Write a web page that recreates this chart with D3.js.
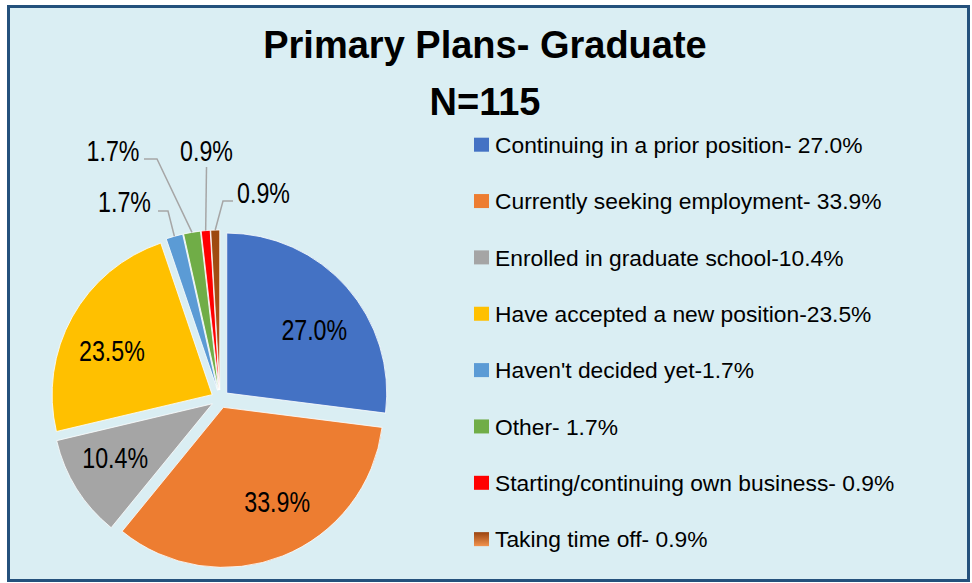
<!DOCTYPE html>
<html>
<head>
<meta charset="utf-8">
<script src="https://cdn.jsdelivr.net/npm/d3@7"></script>
<style>
  html, body { margin: 0; padding: 0; background: #ffffff; }
  svg { display: block; }
  text { font-family: "Liberation Sans", Arial, sans-serif; fill: #000; }
</style>
</head>
<body>
<svg id="chart" width="972" height="583"></svg>
<script>
// Primary plans of graduates (N=115), percentages of respondents
const categories = [
  "Continuing in a prior position",
  "Currently seeking employment",
  "Enrolled in graduate school",
  "Have accepted a new position",
  "Haven't decided yet",
  "Other",
  "Starting/continuing own business",
  "Taking time off"
];
const separators = ["- ", "- ", "-", "-", "-", "- ", "- ", "- "];
const values = [27.0, 33.9, 10.4, 23.5, 1.7, 1.7, 0.9, 0.9];
const colors = ["#4472C4", "#ED7D31", "#A5A5A5", "#FFC000", "#5B9BD5", "#70AD47", "#FF0000", "url(#brownGrad)"];
const titleLines = ["Primary Plans- Graduate", "N=115"];

// Small adjustments of the inside labels away from the slice mid-line
const insideNudge = [[5, 9], [13, -8], [-4, -5], [-4, 9]];

// Outside label placement for thin slices (offset from pie centre) and leader elbows
const outsideLayout = {
  4: { text: [-95.5, -197], elbow: [[-52, -188], [-62, -188]] },
  5: { text: [-107, -248.5], elbow: [[-63, -240], [-76, -240]] },
  6: { text: [-13.5, -248.5], elbow: [[-13.5, -232]] },
  7: { text: [43.5, -206.5], elbow: [[3, -198], [13, -198]] }
};

const W = 972, H = 583;
const cx = 220, cy = 399, R = 160, explode = 9;
const fmt = v => v.toFixed(1) + "%";

const svg = d3.select("#chart");

const defs = svg.append("defs");
const bg = defs.append("linearGradient").attr("id", "brownGrad")
  .attr("x1", 0).attr("y1", 0).attr("x2", 0).attr("y2", 1);
bg.append("stop").attr("offset", "0%").attr("stop-color", "#9E480E");
bg.append("stop").attr("offset", "70%").attr("stop-color", "#A9521A");
bg.append("stop").attr("offset", "100%").attr("stop-color", "#E98A45");

const lg = defs.append("linearGradient").attr("id", "brownGradLegend")
  .attr("x1", 0).attr("y1", 0).attr("x2", 0).attr("y2", 1);
lg.append("stop").attr("offset", "0%").attr("stop-color", "#9A4410");
lg.append("stop").attr("offset", "100%").attr("stop-color", "#F2934E");

// chart area with border
svg.append("rect")
  .attr("x", 8.5).attr("y", 6.5).attr("width", 960).attr("height", 574)
  .attr("fill", "#DAEEF3").attr("stroke", "#24517C").attr("stroke-width", 3);

// title
svg.append("g").selectAll("text").data(titleLines).join("text")
  .attr("x", 485).attr("y", (d, i) => 58 + i * 57)
  .attr("text-anchor", "middle")
  .attr("font-size", 38).attr("font-weight", "bold")
  .text(d => d);

// pie
const pie = d3.pie().sort(null).value(d => d).startAngle(0).endAngle(2 * Math.PI);
const arcs = pie(values);
const arc = d3.arc().innerRadius(0).outerRadius(R);
const labelArc = d3.arc().innerRadius(110).outerRadius(110);
const mid = d => (d.startAngle + d.endAngle) / 2;
const shift = d => [explode * Math.sin(mid(d)), -explode * Math.cos(mid(d))];

const pieG = svg.append("g").attr("transform", `translate(${cx},${cy})`);

pieG.selectAll("path.slice").data(arcs).join("path")
  .attr("class", "slice")
  .attr("transform", d => `translate(${shift(d)})`)
  .attr("d", arc)
  .attr("fill", (d, i) => colors[i])
  .attr("stroke", "#ffffff").attr("stroke-width", 0.8);

// labels inside the large slices
const inside = arcs.filter(d => d.data >= 5);
pieG.selectAll("g.inLabel").data(inside).join("g")
  .attr("class", "inLabel")
  .attr("transform", (d, i) => {
    const c = labelArc.centroid(d), s = shift(d), n = insideNudge[i];
    return `translate(${c[0] + s[0] + n[0]},${c[1] + s[1] + n[1]}) scale(0.8,1)`;
  })
  .append("text")
  .attr("text-anchor", "middle").attr("dy", "0.36em")
  .attr("font-size", 29)
  .text(d => fmt(d.data));

// leader lines and labels for the thin slices
const outside = arcs.map((d, i) => ({ d, i })).filter(o => o.d.data < 5);
const edgePoint = d => {
  const a = mid(d), s = shift(d);
  return [s[0] + R * Math.sin(a), s[1] - R * Math.cos(a)];
};
pieG.selectAll("polyline.leader").data(outside).join("polyline")
  .attr("class", "leader")
  .attr("points", o => [edgePoint(o.d)].concat(outsideLayout[o.i].elbow).map(p => p.join(",")).join(" "))
  .attr("fill", "none").attr("stroke", "#A6A6A6").attr("stroke-width", 1.5);

pieG.selectAll("g.outLabel").data(outside).join("g")
  .attr("class", "outLabel")
  .attr("transform", o => `translate(${outsideLayout[o.i].text}) scale(0.8,1)`)
  .append("text")
  .attr("text-anchor", "middle").attr("dy", "0.36em")
  .attr("font-size", 29)
  .text(o => fmt(o.d.data));

// legend
const legendX = 474, legendY0 = 144.7, legendStep = 56.35;
const leg = svg.append("g").selectAll("g").data(categories).join("g")
  .attr("transform", (d, i) => `translate(${legendX},${legendY0 + i * legendStep})`);
leg.append("rect")
  .attr("x", 0).attr("y", -7).attr("width", 15).attr("height", 14)
  .attr("fill", (d, i) => i === 7 ? "url(#brownGradLegend)" : colors[i]);
leg.append("text")
  .attr("x", 21).attr("dy", "0.36em")
  .attr("font-size", 22.8)
  .text((d, i) => d + separators[i] + fmt(values[i]));
</script>
</body>
</html>
